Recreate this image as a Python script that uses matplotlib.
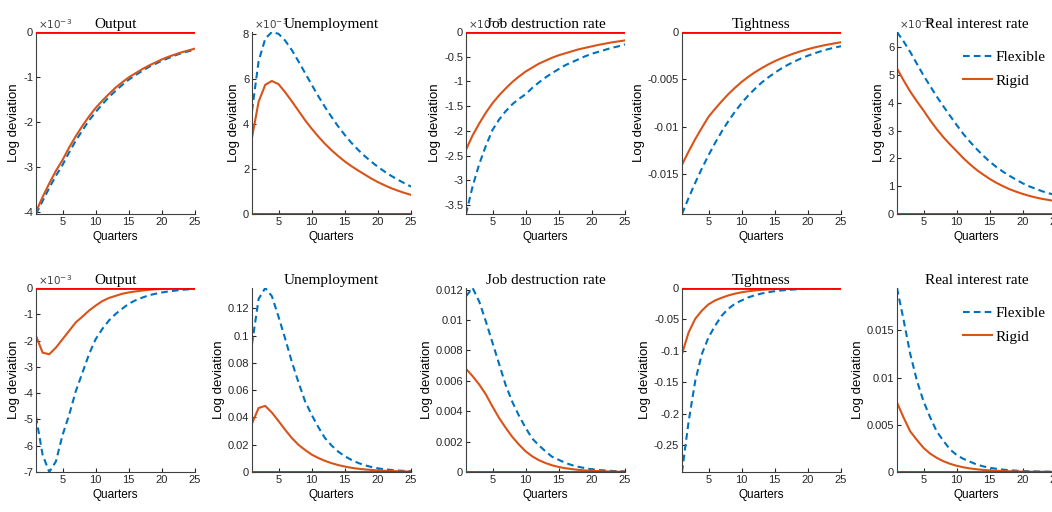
import numpy as np
import matplotlib
matplotlib.use("Agg")
import matplotlib.pyplot as plt
from matplotlib.ticker import FuncFormatter

# Impulse responses, quarters 1..25
quarters = np.arange(1, 26)

# Top row (values in units of the scale shown on each panel)
out_top_flex = [-4.05, -3.76, -3.47, -3.20, -2.96, -2.68, -2.42, -2.19, -1.97, -1.78,
                -1.61, -1.45, -1.31, -1.18, -1.06, -0.96, -0.87, -0.78, -0.71, -0.64,
                -0.58, -0.52, -0.47, -0.43, -0.39]
out_top_rigid = [-4.00, -3.67, -3.37, -3.09, -2.85, -2.57, -2.32, -2.09, -1.88, -1.69,
                 -1.53, -1.38, -1.24, -1.12, -1.01, -0.92, -0.83, -0.75, -0.68, -0.61,
                 -0.55, -0.50, -0.45, -0.41, -0.37]
unemp_top_flex = [4.6, 6.8, 7.8, 8.1, 8.02, 7.72, 7.3, 6.8, 6.28, 5.76,
                  5.25, 4.77, 4.32, 3.9, 3.52, 3.17, 2.86, 2.58, 2.33, 2.1,
                  1.89, 1.7, 1.53, 1.37, 1.22]
unemp_top_rigid = [3.4, 5.0, 5.75, 5.92, 5.78, 5.42, 5.02, 4.6, 4.18, 3.8,
                   3.45, 3.13, 2.84, 2.58, 2.34, 2.13, 1.94, 1.76, 1.58, 1.42,
                   1.28, 1.15, 1.04, 0.94, 0.85]
jd_top_flex = [-3.68, -3.12, -2.67, -2.30, -1.98, -1.77, -1.60, -1.46, -1.35, -1.26,
               -1.13, -1.02, -0.92, -0.83, -0.75, -0.67, -0.61, -0.55, -0.49, -0.44,
               -0.40, -0.36, -0.32, -0.29, -0.25]
jd_top_rigid = [-2.38, -2.09, -1.85, -1.63, -1.44, -1.28, -1.14, -1.01, -0.90, -0.80,
                -0.72, -0.64, -0.58, -0.52, -0.47, -0.43, -0.39, -0.35, -0.32, -0.29,
                -0.26, -0.235, -0.21, -0.19, -0.17]
tight_top_flex = [-0.0192, -0.0175, -0.0159, -0.0144, -0.0130, -0.0117, -0.0105, -0.0094,
                  -0.0084, -0.0075, -0.0067, -0.0060, -0.00535, -0.0048, -0.0043, -0.00385,
                  -0.00345, -0.0031, -0.00278, -0.0025, -0.00225, -0.00202, -0.00182,
                  -0.00165, -0.0015]
tight_top_rigid = [-0.0140, -0.0126, -0.0113, -0.0101, -0.00895, -0.0081, -0.0073, -0.00655,
                   -0.00588, -0.00527, -0.00473, -0.00425, -0.00382, -0.00343, -0.00308,
                   -0.00277, -0.00249, -0.00224, -0.00201, -0.00181, -0.00163, -0.00147,
                   -0.00133, -0.0012, -0.00108]
rate_top_flex = [6.54, 6.2, 5.82, 5.4, 4.98, 4.6, 4.22, 3.87, 3.53, 3.2,
                 2.88, 2.6, 2.34, 2.1, 1.88, 1.69, 1.52, 1.37, 1.23, 1.1,
                 0.99, 0.9, 0.81, 0.74, 0.67]
rate_top_rigid = [5.23, 4.8, 4.4, 4.05, 3.72, 3.37, 3.05, 2.76, 2.5, 2.26,
                  2.01, 1.79, 1.59, 1.42, 1.26, 1.12, 1.0, 0.89, 0.8, 0.72,
                  0.65, 0.59, 0.54, 0.5, 0.46]

# Bottom row
out_bot_flex = [-4.9, -6.35, -7.0, -6.6, -5.6, -4.83, -3.93, -3.23, -2.52, -1.95,
                -1.56, -1.24, -0.99, -0.79, -0.6, -0.47, -0.37, -0.28, -0.22, -0.17,
                -0.13, -0.1, -0.07, -0.05, -0.03]
out_bot_rigid = [-1.82, -2.46, -2.52, -2.27, -1.95, -1.63, -1.31, -1.09, -0.86, -0.67,
                 -0.5, -0.38, -0.3, -0.22, -0.17, -0.13, -0.1, -0.07, -0.05, -0.035,
                 -0.025, -0.017, -0.012, -0.008, -0.005]
unemp_bot_flex = [0.094, 0.127, 0.135, 0.129, 0.114, 0.098, 0.081, 0.066, 0.052, 0.042,
                  0.033, 0.025, 0.0195, 0.015, 0.0116, 0.0089, 0.0067, 0.005, 0.0037, 0.0027,
                  0.002, 0.0015, 0.0011, 0.0008, 0.0006]
unemp_bot_rigid = [0.0355, 0.047, 0.0485, 0.0436, 0.0374, 0.031, 0.025, 0.020, 0.0162, 0.0128,
                   0.0103, 0.0082, 0.0065, 0.0051, 0.004, 0.0031, 0.0024, 0.0019, 0.0015, 0.0011,
                   0.0009, 0.0007, 0.0005, 0.0004, 0.0003]
jd_bot_flex = [0.01156, 0.0121, 0.0112, 0.0099, 0.0085, 0.0071, 0.0057, 0.0046, 0.0037, 0.0029,
               0.0022, 0.00175, 0.00136, 0.001, 0.0008, 0.0006, 0.00045, 0.00034, 0.00025,
               0.00018, 0.00013, 0.0001, 0.00007, 0.00005, 0.00004]
jd_bot_rigid = [0.00678, 0.0063, 0.00575, 0.0051, 0.0043, 0.00355, 0.0029, 0.0023, 0.0018,
                0.00136, 0.00103, 0.00078, 0.00059, 0.00044, 0.00033, 0.00025, 0.00019,
                0.00014, 0.0001, 0.00008, 0.00006, 0.00004, 0.00003, 0.00002, 0.00002]
tight_bot_flex = [-0.293, -0.2125, -0.148, -0.105, -0.0787, -0.06, -0.044, -0.033, -0.025,
                  -0.0198, -0.015, -0.0115, -0.0088, -0.0067, -0.0051, -0.0039, -0.003,
                  -0.0023, -0.0017, -0.0013, -0.001, -0.0008, -0.0006, -0.0005, -0.0004]
tight_bot_rigid = [-0.105, -0.0707, -0.049, -0.036, -0.026, -0.0198, -0.0155, -0.0118, -0.009,
                   -0.0068, -0.0052, -0.004, -0.003, -0.0023, -0.0017, -0.0013, -0.001,
                   -0.00075, -0.00057, -0.00043, -0.00033, -0.00025, -0.00019, -0.00014, -0.0001]
rate_bot_flex = [0.0195, 0.0161, 0.0125, 0.0097, 0.0075, 0.0058, 0.0043, 0.0033, 0.0024, 0.0018,
                 0.0014, 0.0011, 0.0008, 0.0006, 0.00045, 0.00034, 0.00025, 0.00019, 0.00014,
                 0.0001, 0.00008, 0.00006, 0.00004, 0.00003, 0.00002]
rate_bot_rigid = [0.00736, 0.00576, 0.0043, 0.0034, 0.00256, 0.00195, 0.0015, 0.00114, 0.00087,
                  0.00066, 0.0005, 0.00038, 0.00029, 0.00022, 0.00017, 0.00013, 0.0001, 0.00008,
                  0.00006, 0.00004, 0.00003, 0.00002, 0.00002, 0.00001, 0.00001]

titles = ["Output", "Unemployment", "Job destruction rate", "Tightness", "Real interest rate"]
top_flex = [out_top_flex, unemp_top_flex, jd_top_flex, tight_top_flex, rate_top_flex]
top_rigid = [out_top_rigid, unemp_top_rigid, jd_top_rigid, tight_top_rigid, rate_top_rigid]
top_scale = ["-3", "-3", "-3", None, "-4"]
top_ticks = [[-4, -3, -2, -1, 0], [0, 2, 4, 6, 8], [-3.5, -3, -2.5, -2, -1.5, -1, -0.5, 0],
             [-0.015, -0.01, -0.005, 0], [0, 1, 2, 3, 4, 5, 6]]
bot_flex = [out_bot_flex, unemp_bot_flex, jd_bot_flex, tight_bot_flex, rate_bot_flex]
bot_rigid = [out_bot_rigid, unemp_bot_rigid, jd_bot_rigid, tight_bot_rigid, rate_bot_rigid]
bot_scale = ["-3", None, None, None, None]
bot_ticks = [[-7, -6, -5, -4, -3, -2, -1, 0], [0, 0.02, 0.04, 0.06, 0.08, 0.1, 0.12],
             [0, 0.002, 0.004, 0.006, 0.008, 0.01, 0.012], [-0.25, -0.2, -0.15, -0.1, -0.05, 0],
             [0, 0.005, 0.01, 0.015]]

blue = (0, 0.447, 0.741)
orange = (0.85, 0.325, 0.098)
sans = ["Liberation Sans", "DejaVu Sans"]
serif = ["Liberation Serif", "DejaVu Serif"]

plt.rcParams["font.family"] = sans
plt.rcParams["axes.edgecolor"] = "#404040"
plt.rcParams["xtick.color"] = "#262626"
plt.rcParams["ytick.color"] = "#262626"

fig = plt.figure(figsize=(10.52, 5.12), dpi=100)

lefts = [36, 252, 466, 682, 897]
rows = [(32, 214, top_flex, top_rigid, top_scale, top_ticks),
        (288, 472, bot_flex, bot_rigid, bot_scale, bot_ticks)]

fmt = FuncFormatter(lambda v, p: "0" if abs(v) < 1e-12 else f"{v:g}")

for y0, y1, flex_row, rigid_row, scales, ticks in rows:
    for i in range(5):
        flex = flex_row[i]
        rigid = rigid_row[i]
        ax = fig.add_axes([lefts[i] / 1052, 1 - y1 / 512, 159 / 1052, (y1 - y0) / 512])
        l1, = ax.plot(quarters, flex, "--", color=blue, lw=1.5, dashes=(3.2, 2.0))
        l2, = ax.plot(quarters, rigid, "-", color=orange, lw=1.5)
        ax.axhline(0, color="red", lw=2, zorder=5)
        lo = min(min(flex), min(rigid), 0)
        hi = max(max(flex), max(rigid), 0)
        ax.set_xlim(1, 25)
        ax.set_ylim(lo, hi)
        ax.set_xticks([5, 10, 15, 20, 25])
        ax.set_yticks(ticks[i])
        ax.yaxis.set_major_formatter(fmt)
        ax.tick_params(direction="in", length=3, labelsize=8, pad=2)
        ax.spines["top"].set_visible(False)
        ax.spines["right"].set_visible(False)
        ax.set_xlabel("Quarters", fontsize=8.5, labelpad=3)
        ax.set_ylabel("Log deviation", fontsize=9.5, labelpad=2)
        ax.set_title(titles[i], family=serif, fontsize=11, pad=3)
        if scales[i] is not None:
            ax.text(0.01, 1.005, r"$\times10^{%s}$" % scales[i], transform=ax.transAxes,
                    fontsize=7.5, color="#404040", ha="left", va="bottom")
        if i == 4:
            ax.legend([l1, l2], ["Flexible", "Rigid"], frameon=False, loc="upper left",
                      bbox_to_anchor=(0.415, 0.9), borderaxespad=0, borderpad=0,
                      prop={"family": serif, "size": 11},
                      handlelength=1.9, handletextpad=0.2, labelspacing=0.65)

plt.savefig("out.png", dpi=100)
